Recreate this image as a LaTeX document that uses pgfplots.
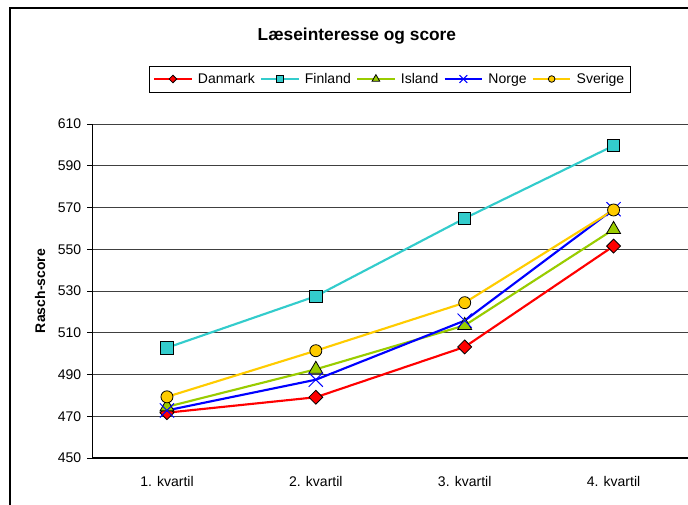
\documentclass[border=0pt]{standalone}
\usepackage{fontspec}
\setmainfont{Liberation Sans}
\usepackage{pgfplots}
\pgfplotsset{compat=1.18}

\definecolor{cDK}{HTML}{FF0000}
\definecolor{cFI}{HTML}{33CCCC}
\definecolor{cIS}{HTML}{99CC00}
\definecolor{cNO}{HTML}{0000FF}
\definecolor{cSE}{HTML}{FFCC00}

\begin{document}
\begin{tikzpicture}
\useasboundingbox (0,0) rectangle (516pt,378.75pt);
% outer chart frame (runs off the right and bottom edges)
\draw[line width=0.9pt] (7.5pt,-5pt) -- (7.5pt,372.75pt) -- (530pt,372.75pt);
\begin{axis}[
  at={(69.4pt,35.25pt)}, anchor=south west,
  scale only axis,
  width=446.6pt, height=250.5pt,
  xmin=0.5, xmax=4.5, ymin=450, ymax=610,
  axis x line*=bottom, axis y line*=left,
  axis line style={line width=0.8pt, -},
  xtick={1,2,3,4},
  xticklabels={1. kvartil, 2. kvartil, 3. kvartil, 4. kvartil},
  x tick style={draw=none},
  extra x ticks={1.5,2.5,3.5,4.5},
  extra x tick labels={},
  extra x tick style={grid=none, tick align=outside, major tick length=4pt,
    tick style={draw=black, line width=0.6pt}},
  ytick={450,470,...,610},
  y tick style={draw=black, line width=0.6pt},
  tick align=outside, major tick length=4pt,
  ymajorgrids,
  grid style={line width=0.7pt, draw=black!75},
  tick label style={font=\fontsize{10.5}{12}\selectfont},
  /pgf/number format/assume math mode=true,
  yticklabel style={xshift=-1pt},
  xticklabel style={yshift=-6pt},
  ylabel={Rasch-score},
  ylabel style={font=\bfseries\fontsize{10.5}{12}\selectfont,
    at={(axis description cs:-0.088,0.5)}, anchor=center},
  title={Læseinteresse og score},
  title style={font=\bfseries\fontsize{13}{15}\selectfont,
    at={(axis description cs:0.444,1.239)}, anchor=center},
  legend columns=5,
  legend style={at={(axis description cs:0.4996,1.1347)}, anchor=center,
    font=\fontsize{10.5}{12}\selectfont, draw=black, line width=0.6pt,
    inner sep=2.5pt, column sep=2pt,
    nodes={text height=1.6ex, text depth=0.4ex},
    /tikz/every even column/.append style={column sep=2pt}},
  legend image code/.code={%
    \draw[mark repeat=2,mark phase=2] plot coordinates {(0pt,0pt) (14pt,0pt) (28pt,0pt)};},
  legend image post style={/tikz/every mark/.append style={scale=0.55}},
  every axis plot/.append style={line width=1.6pt},
]
\addplot[color=cDK, mark=square*, mark size=3.7pt,
  mark options={fill=cDK, draw=black, line width=0.6pt, rotate=45}]
  coordinates {(1,471.7) (2,479.1) (3,503.2) (4,551.5)};
\addlegendentry{Danmark}
\addplot[color=cFI, mark=square*, mark size=4.6pt,
  mark options={fill=cFI, draw=black, line width=0.6pt}]
  coordinates {(1,502.8) (2,527.5) (3,564.8) (4,599.6)};
\addlegendentry{Finland}
\addplot[color=cIS, mark=triangle*, mark size=6pt,
  mark options={fill=cIS, draw=black, line width=0.6pt}]
  coordinates {(1,474.5) (2,492.5) (3,513.5) (4,559.5)};
\addlegendentry{Island}
\addplot[color=cNO, mark=x, mark size=7.5pt,
  mark options={draw=cNO, line width=0.7pt}]
  coordinates {(1,472.8) (2,487.5) (3,515.8) (4,569.2)};
\addlegendentry{Norge}
\addplot[color=cSE, mark=*, mark size=4.5pt,
  mark options={fill=cSE, draw=black, line width=0.6pt}]
  coordinates {(1,479.3) (2,501.4) (3,524.4) (4,568.8)};
\addlegendentry{Sverige}
\end{axis}
\end{tikzpicture}
\end{document}
